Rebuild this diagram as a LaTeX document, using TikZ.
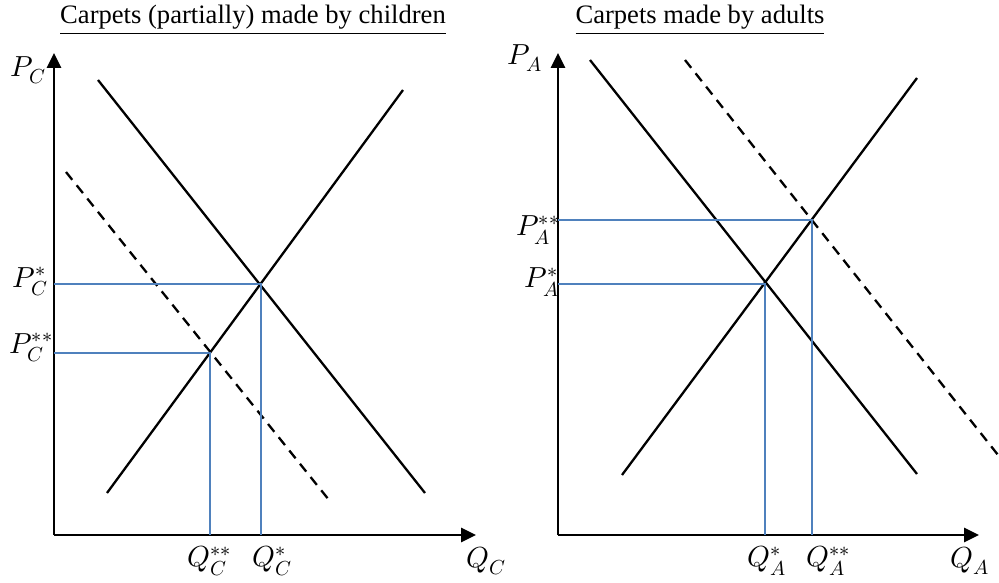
\documentclass[tikz,border=0pt]{standalone}
\usepackage{fontspec}
\usepackage{unicode-math}
\setmainfont{Liberation Serif}
\setmathfont{Latin Modern Math}
\usetikzlibrary{arrows.meta}
\definecolor{guideblue}{RGB}{79,129,189}
\begin{document}
\begin{tikzpicture}[x=1pt,y=-1pt,
  axis/.style={line width=2.8pt,-{Triangle[length=15pt,width=14pt]}},
  curve/.style={line width=2.3pt,black},
  dcurve/.style={line width=2.3pt,black,dash pattern=on 10pt off 7pt},
  guide/.style={line width=1.7pt,guideblue},
  lbl/.style={inner sep=0pt,font=\fontsize{29}{34}\selectfont},
  ttl/.style={inner sep=0pt,font=\fontsize{26.6}{31}\selectfont}]
\useasboundingbox (0,0) rectangle (999,583);
% titles
\node[ttl] (t1) at (253,20) {\underline{Carpets (partially) made by children}};
\node[ttl] (t2) at (700,20) {\underline{Carpets made by adults}};
% ---- left panel ----
\coordinate (o1) at (54,535);
\coordinate (y1) at (54,53);
\coordinate (x1) at (476,535);
\draw[axis] (o1) -- (y1);
\draw[axis] (o1) -- (x1);
\coordinate (s1a) at (107,493); \coordinate (s1b) at (403,90);
\coordinate (d1a) at (98,80);   \coordinate (d1b) at (425,493);
\coordinate (e1a) at (66,172);  \coordinate (e1b) at (329,500);
\draw[curve] (s1a) -- (s1b);
\draw[curve] (d1a) -- (d1b);
\draw[dcurve] (e1a) -- (e1b);
\coordinate (eq1) at (261,284);
\coordinate (eq1b) at (210,353);
\coordinate (pc1) at (54,284); \coordinate (pc2) at (54,353);
\coordinate (qc1) at (261,535); \coordinate (qc2) at (210,535);
\draw[guide] (pc1) -- (eq1) -- (qc1);
\draw[guide] (pc2) -- (eq1b) -- (qc2);
\node[lbl] (PC) at (28,70) {$P_C$};
\node[lbl] (QC) at (486,561) {$Q_C$};
\node[lbl] (PCs) at (30,282) {$P_C^*$};
\node[lbl] (PCss) at (31,348) {$P_C^{**}$};
\node[lbl] (QCss) at (209,561) {$Q_C^{**}$};
\node[lbl] (QCs) at (272,561) {$Q_C^*$};
% ---- right panel ----
\coordinate (o2) at (558,535);
\coordinate (y2) at (558,53);
\coordinate (x2) at (979,535);
\draw[axis] (o2) -- (y2);
\draw[axis] (o2) -- (x2);
\coordinate (s2a) at (622,475); \coordinate (s2b) at (917,78);
\coordinate (d2a) at (590,60);  \coordinate (d2b) at (917,474);
\coordinate (e2a) at (685,60);  \coordinate (e2b) at (1002,460);
\draw[curve] (s2a) -- (s2b);
\draw[curve] (d2a) -- (d2b);
\draw[dcurve] (e2a) -- (e2b);
\coordinate (eq2) at (765,284);
\coordinate (eq2b) at (812,220);
\coordinate (pa1) at (558,284); \coordinate (pa2) at (558,220);
\coordinate (qa1) at (765,535); \coordinate (qa2) at (812,535);
\draw[guide] (pa1) -- (eq2) -- (qa1);
\draw[guide] (pa2) -- (eq2b) -- (qa2);
\node[lbl] (PA) at (525,58) {$P_A$};
\node[lbl] (QA) at (970,561) {$Q_A$};
\node[lbl] (PAss) at (538,230) {$P_A^{**}$};
\node[lbl] (PAs) at (542,282) {$P_A^*$};
\node[lbl] (QAs) at (767,561) {$Q_A^*$};
\node[lbl] (QAss) at (828,561) {$Q_A^{**}$};
\end{tikzpicture}
\end{document}
